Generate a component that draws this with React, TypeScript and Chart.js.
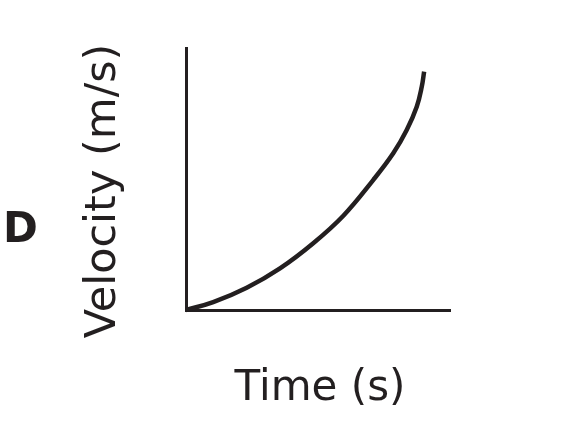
import React, { useEffect, useRef } from "react";
import { Chart, registerables } from "chart.js";

Chart.register(...registerables);

const timeValues = [0, 1.03, 2.3, 3.56, 4.82, 5.96, 7.09, 7.85, 8.36, 8.74, 8.93, 9.02];
const velocityValues = [0, 0.3, 0.85, 1.59, 2.55, 3.6, 4.96, 5.98, 6.87, 7.76, 8.52, 9.1];
const xTitle = "Time (s)";
const yTitle = "Velocity (m/s)";
const panelLabel = "D";

const INK = "#231f20";
const FONT = "'DejaVu Sans', Verdana, sans-serif";

const textPlugin = {
  id: "textPlugin",
  afterDraw(chart: any) {
    const ctx = chart.ctx;
    ctx.save();
    ctx.fillStyle = INK;
    ctx.textAlign = "left";
    ctx.textBaseline = "alphabetic";
    ctx.font = `bold 42px ${FONT}`;
    ctx.fillText(panelLabel, 3, 242);

    ctx.textAlign = "center";
    ctx.font = `42px ${FONT}`;
    ctx.fillText(xTitle, 320, 400);

    ctx.translate(115, 191);
    ctx.rotate(-Math.PI / 2);
    ctx.font = `43px ${FONT}`;
    ctx.fillText(yTitle, 0, 0);
    ctx.restore();
  },
};

export default function App() {
  const ref = useRef<HTMLCanvasElement | null>(null);
  useEffect(() => {
    if (!ref.current) return;
    const chart = new Chart(ref.current, {
      type: "line",
      data: {
        datasets: [
          {
            data: timeValues.map((t, i) => ({ x: t, y: velocityValues[i] })),
            borderColor: INK,
            borderWidth: 4.5,
            pointRadius: 0,
            fill: false,
            tension: 0.4,
            clip: false,
          } as any,
        ],
      },
      options: {
        responsive: false,
        animation: false,
        layout: { padding: { left: 186, right: 127, top: 48, bottom: 122 } },
        plugins: { legend: { display: false }, tooltip: { enabled: false } },
        scales: {
          x: {
            type: "linear",
            min: 0,
            max: 10,
            grid: { display: false, drawTicks: false },
            ticks: { display: false },
            border: { display: true, color: INK, width: 3 },
          },
          y: {
            type: "linear",
            min: 0,
            max: 10,
            grid: { display: false, drawTicks: false },
            ticks: { display: false },
            border: { display: true, color: INK, width: 3 },
          },
        },
      },
      plugins: [textPlugin],
    });
    return () => chart.destroy();
  }, []);
  return (
    <div style={{ position: "absolute", left: 0, top: 0, width: 577, height: 432, background: "#fff" }}>
      <canvas ref={ref} width={577} height={432} />
    </div>
  );
}
